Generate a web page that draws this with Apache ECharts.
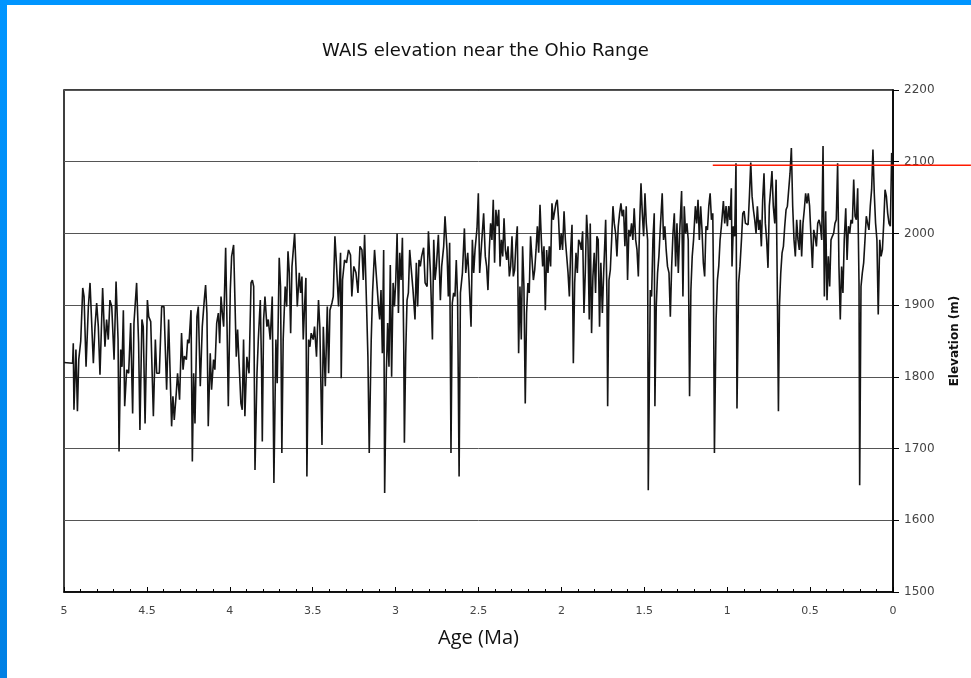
<!DOCTYPE html>
<html>
<head>
<meta charset="utf-8">
<script src="https://cdn.jsdelivr.net/npm/echarts@6/dist/echarts.min.js"></script>
<style>
html,body{margin:0;padding:0;background:#fff;}
#chart{width:971px;height:678px;}
</style>
</head>
<body>
<div id="chart"></div>
<script>
const titleText = 'WAIS elevation near the Ohio Range';
const xName = 'Age (Ma)';
const yName = 'Elevation (m)';
const xMin = 0, xMax = 5, xStep = 0.5;
const yMin = 1500, yMax = 2200, yStep = 100;

// [age (Ma), elevation (m)]
const elevationSeries = [
[5.00,1820],[4.948,1819],[4.944,1847],[4.940,1754],[4.928,1838],[4.919,1752],[4.911,1824],[4.899,1850],[4.887,1924],[4.879,1912],[4.867,1814],[4.853,1898],[4.843,1931],[4.831,1933],[4.823,1819],[4.813,1870],[4.803,1903],[4.793,1870],[4.783,1803],[4.767,1924],[4.753,1842],[4.743,1880],[4.733,1852],[4.723,1907],[4.712,1898],[4.698,1824],[4.686,1933],[4.674,1852],[4.668,1696],[4.658,1838],[4.650,1814],[4.642,1893],[4.634,1759],[4.622,1810],[4.610,1805],[4.598,1875],[4.586,1749],[4.578,1875],[4.562,1931],[4.550,1847],[4.542,1726],[4.530,1880],[4.522,1870],[4.511,1735],[4.497,1907],[4.489,1884],[4.477,1877],[4.461,1745],[4.449,1852],[4.441,1805],[4.425,1805],[4.411,1898],[4.397,1898],[4.381,1782],[4.369,1880],
[4.363,1880],[4.351,1731],[4.343,1773],[4.335,1740],[4.323,1777],[4.315,1805],[4.303,1768],[4.291,1861],[4.282,1810],[4.274,1829],[4.262,1824],[4.254,1852],[4.246,1847],[4.234,1893],[4.226,1682],[4.218,1805],[4.210,1735],[4.198,1884],[4.190,1898],[4.178,1787],[4.166,1870],[4.154,1907],[4.146,1928],[4.138,1889],[4.130,1731],[4.118,1833],[4.110,1782],[4.098,1824],[4.090,1810],[4.079,1875],[4.069,1889],[4.061,1847],[4.053,1912],[4.045,1889],[4.037,1870],[4.025,1980],[4.017,1875],[4.009,1759],[3.997,1921],[3.989,1968],[3.977,1984],[3.969,1907],[3.961,1828],[3.953,1866],[3.945,1824],[3.933,1763],[3.925,1754],[3.917,1852],[3.909,1745],[3.897,1828],[3.884,1805],[3.872,1931],[3.864,1935],[3.856,1926],[3.848,1670],[3.836,1805],[3.828,1852],[3.816,1907],[3.808,1805],[3.804,1710],[3.796,1880],[3.788,1912],[3.776,1870],[3.768,1880],[3.756,1852],[3.744,1912],[3.734,1652],
[3.722,1852],[3.714,1791],[3.702,1966],[3.694,1926],[3.686,1694],[3.678,1852],[3.666,1926],[3.657,1898],[3.649,1975],[3.641,1945],[3.633,1861],[3.625,1954],[3.617,1977],[3.609,2000],[3.601,1954],[3.593,1898],[3.581,1945],[3.573,1917],[3.565,1940],[3.557,1852],[3.549,1898],[3.541,1938],[3.535,1661],[3.525,1852],[3.517,1842],[3.509,1861],[3.497,1852],[3.489,1870],[3.477,1828],[3.465,1907],[3.457,1870],[3.444,1705],[3.436,1870],[3.424,1787],[3.412,1898],[3.404,1805],[3.396,1893],[3.384,1903],[3.376,1912],[3.366,1996],[3.356,1954],[3.344,1898],[3.332,1973],[3.328,1798],[3.320,1935],[3.308,1963],[3.296,1959],[3.284,1977],[3.272,1970],[3.264,1912],[3.252,1954],[3.239,1945],[3.227,1917],[3.215,1982],[3.203,1977],[3.195,1935],[3.187,1998],[3.175,1898],[3.167,1828],[3.159,1694],[3.147,1852],[3.139,1917],[3.127,1977],[3.115,1977],[3.103,1898],
[3.096,1880],[3.088,1921],[3.080,1833],[3.072,1977],[3.066,1638],[3.056,1805],[3.048,1875],[3.040,1814],[3.032,1956],[3.024,1800],[3.015,1931],[3.007,1898],[2.999,1935],[2.991,2000],[2.983,1889],[2.975,1973],[2.967,1935],[2.959,1994],[2.951,1847],[2.947,1708],[2.939,1833],[2.931,1907],[2.923,1917],[2.915,1977],[2.907,1954],[2.895,1921],[2.883,1880],[2.875,1959],[2.867,1898],[2.859,1963],[2.851,1954],[2.843,1968],[2.831,1980],[2.822,1931],[2.810,1926],[2.802,2003],[2.790,1945],[2.778,1852],[2.770,1991],[2.762,1935],[2.754,1954],[2.742,1998],[2.730,1907],[2.722,1954],[2.710,1982],[2.702,2024],[2.690,1977],[2.682,1912],[2.674,1987],[2.666,1694],[2.658,1903],[2.650,1917],[2.642,1912],[2.634,1963],[2.626,1907],[2.617,1661],[2.609,1917],[2.597,1945],[2.585,2007],[2.577,1945],[2.565,1973],[2.557,1935],[2.545,1870],[2.537,1991],[2.529,1945],[2.521,1977],[2.509,2007],[2.501,2056],[2.493,1945],[2.481,1987],[2.469,2028],
[2.459,1968],[2.451,1954],[2.443,1921],[2.435,1977],[2.427,2014],[2.419,1991],[2.411,2047],[2.403,1959],[2.395,2033],[2.386,2010],[2.378,2033],[2.370,1954],[2.362,1991],[2.354,1968],[2.346,2021],[2.338,1977],[2.330,1963],[2.322,1982],[2.314,1940],[2.306,1954],[2.298,1996],[2.290,1940],[2.282,1949],[2.274,1987],[2.266,2010],[2.258,1833],[2.250,1926],[2.242,1852],[2.234,1982],[2.226,1926],[2.218,1763],[2.210,1889],[2.202,1931],[2.194,1917],[2.186,1996],[2.177,1963],[2.169,1935],[2.161,1949],[2.153,1977],[2.145,2010],[2.137,1973],[2.129,2040],[2.121,1991],[2.113,1954],[2.105,1982],[2.097,1893],[2.089,1977],[2.081,1945],[2.073,1982],[2.065,1954],[2.057,2042],[2.049,2019],[2.041,2019],[2.033,2042],[2.025,2047],[2.017,2019],[2.009,1977],[2.001,2000],[1.993,1977],[1.984,2031],[1.976,1991],[1.968,1968],[1.960,1945],[1.952,1912],[1.944,1977],[1.936,2012],[1.928,1819],[1.920,1931],[1.912,1973],[1.904,1945],[1.896,1991],[1.888,1987],[1.880,1977],[1.872,2003],[1.864,1889],[1.856,1945],[1.848,2026],[1.840,1991],[1.832,1880],
[1.826,2014],[1.818,1861],[1.810,1940],[1.802,1973],[1.794,1917],[1.786,1996],[1.778,1991],[1.770,1870],[1.762,1959],[1.753,1889],[1.745,1945],[1.733,2019],[1.725,1907],[1.721,1759],[1.713,1935],[1.705,1949],[1.697,1991],[1.689,2038],[1.681,2014],[1.673,2000],[1.665,1968],[1.657,2010],[1.649,2028],[1.641,2042],[1.633,2024],[1.625,2033],[1.617,1982],[1.609,2038],[1.601,1935],[1.593,2005],[1.585,1996],[1.577,2014],[1.569,1991],[1.561,2035],[1.552,1991],[1.544,1977],[1.536,1940],[1.528,2014],[1.520,2070],[1.512,2028],[1.504,1996],[1.496,2056],[1.488,2014],[1.480,1991],[1.476,1642],[1.464,1921],[1.456,1912],[1.448,1991],[1.440,2028],[1.436,1759],[1.428,1898],[1.420,1945],[1.412,1968],[1.404,2005],[1.392,2056],[1.384,1991],[1.376,2010],[1.368,1977],[1.360,1954],[1.351,1945],[1.343,1884],[1.335,1954],[1.327,2000],[1.319,2028],[1.311,1954],[1.303,2014],[1.295,1945],[1.287,2000],[1.275,2059],[1.267,1912],[1.259,2038],[1.251,2000],[1.243,2014],[1.235,1991],[1.227,1773],[1.219,1921],[1.211,1968],[1.203,1991],
[1.192,2038],[1.184,2014],[1.176,2047],[1.168,1991],[1.160,2038],[1.152,2005],[1.144,1959],[1.136,1940],[1.128,2010],[1.119,2005],[1.111,2038],[1.103,2056],[1.095,2019],[1.087,2028],[1.083,1935],[1.077,1694],[1.067,1880],[1.059,1935],[1.051,1954],[1.043,1991],[1.035,2010],[1.023,2045],[1.015,2014],[1.007,2038],[0.999,2010],[0.991,2038],[0.983,2019],[0.975,2063],[0.971,1954],[0.963,2010],[0.955,1996],[0.947,2098],[0.941,1756],[0.931,1931],[0.923,1954],[0.914,1991],[0.906,2028],[0.898,2031],[0.890,2014],[0.882,2012],[0.874,2012],[0.866,2052],[0.858,2099],[0.850,2052],[0.842,2033],[0.834,2019],[0.826,2000],[0.818,2038],[0.810,2005],[0.802,2019],[0.794,1982],[0.786,2047],[0.778,2084],[0.770,2014],[0.762,1991],[0.754,1952],[0.746,2038],[0.738,2061],[0.730,2087],[0.722,2038],[0.713,2014],[0.705,2075],[0.697,1908],[0.691,1752],[0.685,1898],[0.677,1945],[0.669,1973],[0.661,1982],[0.653,2010],[0.645,2033],[0.637,2038],[0.629,2061],[0.621,2084],[0.613,2119],[0.605,2038],[0.597,1991],[0.589,1968],[0.581,2019],[0.573,1991],[0.565,1977],
[0.559,2019],[0.551,1968],[0.543,2014],[0.535,2033],[0.527,2056],[0.519,2042],[0.511,2056],[0.503,2038],[0.495,2038],[0.486,1952],[0.478,2005],[0.470,1996],[0.462,1982],[0.454,2014],[0.446,2019],[0.438,2010],[0.430,1991],[0.422,2122],[0.414,1912],[0.406,2031],[0.398,1907],[0.390,1968],[0.382,1926],[0.374,1991],[0.366,1996],[0.358,2000],[0.350,2014],[0.342,2019],[0.334,2098],[0.326,1954],[0.318,1880],[0.310,1954],[0.302,1917],[0.294,1991],[0.285,2035],[0.277,1963],[0.269,2010],[0.261,2000],[0.253,2019],[0.245,2014],[0.237,2075],[0.229,2024],[0.221,2019],[0.213,2063],[0.205,1931],[0.201,1649],[0.193,1926],[0.185,1945],[0.177,1959],[0.169,1991],[0.161,2024],[0.153,2014],[0.145,2005],[0.137,2038],[0.129,2061],[0.121,2117],[0.113,2056],[0.105,2014],[0.097,1991],[0.089,1887],[0.080,1991],[0.072,1968],[0.064,1977],[0.056,2014],[0.048,2061],[0.040,2052],[0.032,2028],[0.024,2014],[0.016,2010],[0.008,2112],[0.003,2110]
];

// red reference line [age, elevation]: starts at 1.087 Ma and runs past 0 to the page edge
const redLine = [[1.087, 2095], [-0.47, 2095]];

const chart = echarts.init(document.getElementById('chart'), null, {renderer: 'canvas'});
const option = {
  animation: false,
  backgroundColor: '#ffffff',
  title: {
    text: titleText,
    left: 'center',
    top: 37,
    textStyle: {fontFamily: 'DejaVu Sans', fontSize: 18, fontWeight: 'normal', color: '#111'}
  },
  grid: {left: 64, right: 78, top: 90, bottom: 86, show: true, borderColor: '#000', borderWidth: 1.5, backgroundColor: 'transparent'},
  xAxis: {
    type: 'value', inverse: true, min: xMin, max: xMax, interval: xStep,
    name: xName, nameLocation: 'middle', nameGap: 36,
    nameTextStyle: {fontFamily: 'Open Sans', fontSize: 20, color: '#111'},
    axisLine: {show: true, onZero: false, lineStyle: {color: '#000', width: 1.5}},
    axisTick: {show: true, inside: true, length: 5, lineStyle: {color: '#000'}},
    minorTick: {show: true, splitNumber: 5, length: 3, lineStyle: {color: '#000'}},
    axisLabel: {margin: 14, fontFamily: 'DejaVu Sans', fontSize: 11, color: '#444'},
    splitLine: {show: false}
  },
  yAxis: {
    type: 'value', position: 'right', min: yMin, max: yMax, interval: yStep,
    name: yName, nameLocation: 'middle', nameGap: 56, nameRotate: 90,
    nameTextStyle: {fontFamily: 'DejaVu Sans', fontSize: 12, fontWeight: 'bold', color: '#111'},
    axisLine: {show: true, lineStyle: {color: '#000', width: 1.5}},
    axisTick: {show: true, inside: false, length: 6, lineStyle: {color: '#000'}},
    axisLabel: {margin: 11, fontFamily: 'DejaVu Sans', fontSize: 12, color: '#444', formatter: function (v) { return String(v); }},
    splitLine: {show: true, lineStyle: {color: '#555', width: 1}}
  },
  series: [
    {
      type: 'line', data: elevationSeries, symbol: 'none', showSymbol: false,
      lineStyle: {color: '#151515', width: 1.6}, z: 3
    }
  ]
};
chart.setOption(option);

// frame and red line through the chart's own scale
const p0 = chart.convertToPixel({gridIndex: 0}, redLine[0]);
const p1 = chart.convertToPixel({gridIndex: 0}, redLine[1]);
chart.setOption({
  graphic: [
    {type: 'rect', left: 0, top: 0, shape: {width: 971, height: 5}, style: {fill: '#0095ff'}, silent: true, z: 100},
    {type: 'rect', left: 0, top: 0, shape: {width: 7, height: 678},
     style: {fill: new echarts.graphic.LinearGradient(0, 0, 0, 1, [{offset: 0, color: '#0095ff'}, {offset: 1, color: '#0080e4'}])},
     silent: true, z: 100},
    {type: 'line', shape: {x1: p0[0], y1: p0[1], x2: p1[0], y2: p1[1]}, style: {stroke: '#ff1a00', lineWidth: 1.5}, silent: true, z: 50}
  ]
});
</script>
</body>
</html>
